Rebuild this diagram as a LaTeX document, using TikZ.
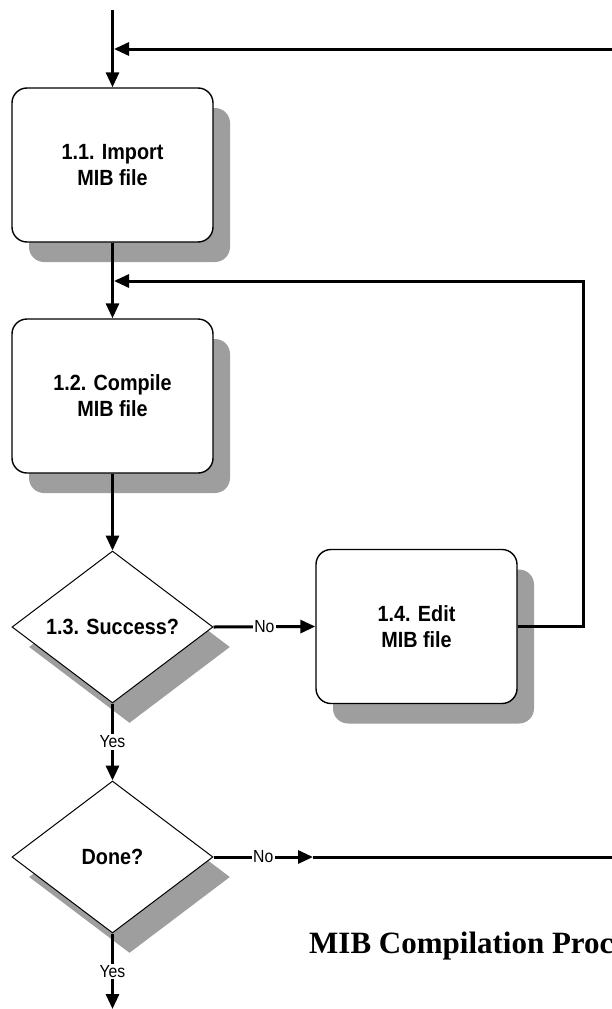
\documentclass[tikz,border=0pt]{standalone}
\usepackage{fontspec}
\setmainfont{Liberation Sans}
\newfontfamily\titlefont{Liberation Serif}
\newfontfamily\boxfont[FakeStretch=0.9]{Liberation Sans}
\usetikzlibrary{arrows.meta,shapes.geometric,shadows}

\begin{document}
\begin{tikzpicture}[x=1pt,y=-1pt,
  shdw/.style={drop shadow={shadow xshift=17pt,shadow yshift=-20pt,fill=black!38,opacity=1}},
  proc/.style={draw,line width=1.4pt,rounded corners=15pt,minimum width=201pt,minimum height=154pt,
    fill=white,align=center,font=\boxfont\bfseries\fontsize{22}{26}\selectfont,inner sep=0pt,shdw},
  dec/.style={draw,line width=1pt,diamond,minimum width=201pt,minimum height=152pt,
    fill=white,font=\boxfont\bfseries\fontsize{22}{26}\selectfont,inner sep=0pt,shdw},
  conn/.style={line width=3pt,-{Triangle[length=15pt,width=13pt]}},
  wire/.style={line width=3pt},
  lbl/.style={fill=white,inner sep=1.5pt,font=\boxfont\fontsize{17.5}{20}\selectfont}
]
\useasboundingbox (0,0) rectangle (612,1009);
\clip (0,0) rectangle (612,1009);

% nodes
\node[proc] (imp) at (112.5,165) {1.1. Import\\MIB file};
\node[proc] (comp) at (112.5,396) {1.2. Compile\\MIB file};
\node[dec] (succ) at (112.5,627) {1.3. Success?};
\node[proc] (edit) at (416.5,626.5) {1.4. Edit\\MIB file};
\node[dec] (done) at (112.5,857) {Done?};
\node[anchor=base west,inner sep=0pt,font=\titlefont\bfseries\fontsize{31}{36}\selectfont] (title) at (309,953) {MIB Compilation Proc};

% coordinates
\coordinate (top) at (112.5,10);
\coordinate (fb1) at (612,49);
\coordinate (j1) at (114,49);
\coordinate (j2) at (114,281);
\coordinate (rc) at (583,281);
\coordinate (m2) at (313,857);
\coordinate (fb2) at (612,857);
\coordinate (bot) at (112.5,1009);

% connectors
\draw[conn] (top) -- (imp.north);
\draw[conn] (fb1) -- (j1);
\draw[conn] (imp.south) -- (comp.north);
\draw[conn] (edit.east) -| (rc) -- (j2);
\draw[conn] (comp.south) -- (succ.north);
\draw[conn] (succ.east) -- node[lbl]{No} (edit.west);
\draw[conn] (succ.south) -- node[lbl]{Yes} (done.north);
\draw[conn] (done.east) -- node[lbl]{No} (m2);
\draw[wire] (m2) -- (fb2);
\draw[conn] (done.south) -- node[lbl]{Yes} (bot);
\end{tikzpicture}
\end{document}
